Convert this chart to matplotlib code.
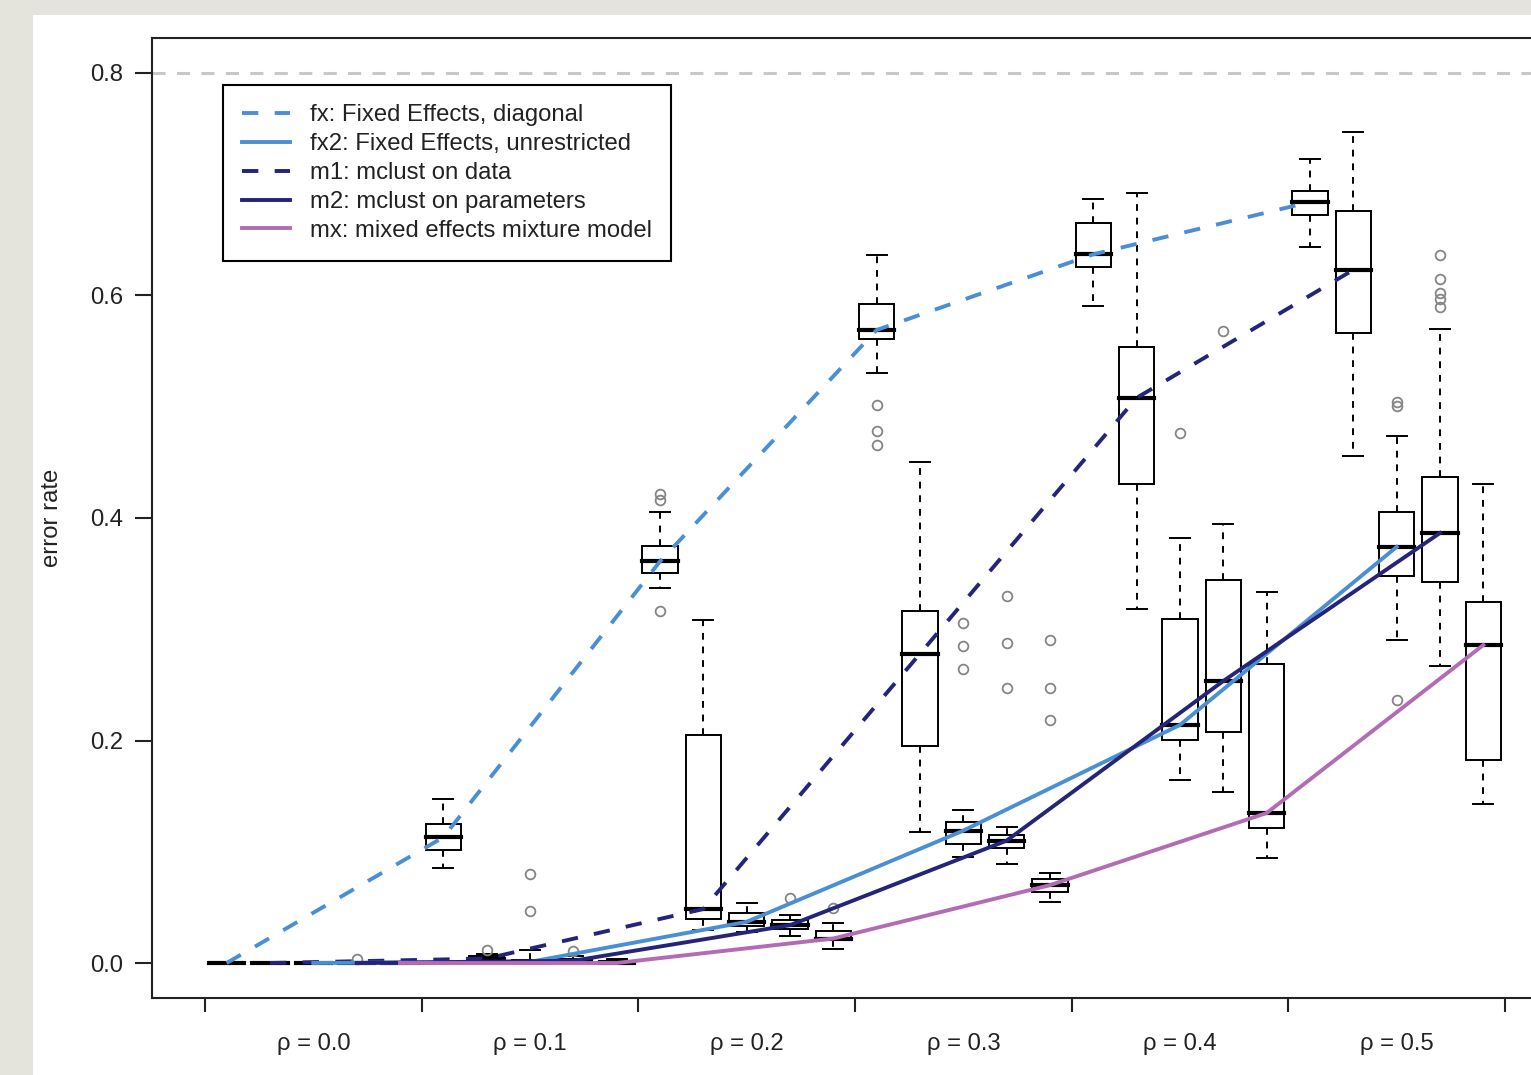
import matplotlib
matplotlib.use("Agg")
import matplotlib.pyplot as plt
from matplotlib.lines import Line2D
from matplotlib.patches import Rectangle

plt.rcParams['font.family'] = ['Liberation Sans', 'DejaVu Sans']

# groups (rho values)
rho_labels = ["ρ = 0.0", "ρ = 0.1", "ρ = 0.2", "ρ = 0.3", "ρ = 0.4", "ρ = 0.5"]

# box stats per group: [whislo, q1, med, q3, whishi]
fx_stats = [[0, 0, 0, 0, 0],
            [0.085, 0.1016, 0.113, 0.125, 0.147],
            [0.337, 0.351, 0.361, 0.375, 0.405],
            [0.530, 0.561, 0.569, 0.592, 0.636],
            [0.591, 0.626, 0.637, 0.665, 0.687],
            [0.6436, 0.672, 0.684, 0.694, 0.7227]]
fx_out = [[], [], [0.316, 0.416, 0.422], [0.466, 0.478, 0.502], [], []]

m1_stats = [[0, 0, 0, 0, 0],
            [0, 0.002, 0.004, 0.006, 0.008],
            [0.03, 0.040, 0.0485, 0.205, 0.308],
            [0.118, 0.195, 0.278, 0.316, 0.450],
            [0.318, 0.431, 0.508, 0.554, 0.692],
            [0.4557, 0.566, 0.623, 0.676, 0.747]]
m1_out = [[], [0.012], [], [], [], []]

fx2_stats = [[0, 0, 0, 0, 0],
             [0, 0, 0.001, 0.003, 0.012],
             [0.028, 0.033, 0.037, 0.045, 0.054],
             [0.095, 0.107, 0.119, 0.127, 0.1375],
             [0.1645, 0.2005, 0.214, 0.309, 0.382],
             [0.290, 0.348, 0.374, 0.405, 0.4737]]
fx2_out = [[], [0.047, 0.08], [], [0.264, 0.285, 0.306], [0.476], [0.236, 0.501, 0.504]]

m2_stats = [[0, 0, 0, 0, 0],
            [0, 0.001, 0.002, 0.004, 0.006],
            [0.024, 0.031, 0.034, 0.039, 0.043],
            [0.089, 0.103, 0.110, 0.115, 0.122],
            [0.1537, 0.2076, 0.2535, 0.344, 0.3946],
            [0.267, 0.3425, 0.3865, 0.437, 0.570]]
m2_out = [[0.004], [0.011], [0.058], [0.247, 0.288, 0.330], [0.568],
          [0.590, 0.597, 0.602, 0.615, 0.636]]

mx_stats = [[0, 0, 0, 0, 0],
            [0, 0, 0, 0.002, 0.004],
            [0.013, 0.021, 0.022, 0.029, 0.036],
            [0.055, 0.064, 0.070, 0.0755, 0.081],
            [0.0944, 0.1213, 0.1348, 0.269, 0.3335],
            [0.143, 0.1825, 0.2858, 0.3245, 0.4306]]
mx_out = [[], [], [0.049], [0.218, 0.247, 0.290], [], []]

light_blue = "#4a8fd4"
navy = "#24247a"
pink = "#b36bb5"
txt = "#222222"
fs = 17.2

# series in box order within a group, plus line style for the median lines
series = [
    ("fx: Fixed Effects, diagonal", fx_stats, fx_out, light_blue, "dashed"),
    ("m1: mclust on data", m1_stats, m1_out, navy, "dashed"),
    ("fx2: Fixed Effects, unrestricted", fx2_stats, fx2_out, light_blue, "solid"),
    ("m2: mclust on parameters", m2_stats, m2_out, navy, "solid"),
    ("mx: mixed effects mixture model", mx_stats, mx_out, pink, "solid"),
]
legend_order = [0, 2, 1, 3, 4]

W, H = 1531, 1075
fig = plt.figure(figsize=(W / 100, H / 100), dpi=100, facecolor="#e4e4dd")
fig.add_artist(Rectangle((33 / W, 0), 1, 1 - 15 / H, transform=fig.transFigure,
                         facecolor="white", edgecolor="none", zorder=-1))

ax = fig.add_axes([152 / W, 77 / H, 1408 / W, 960 / H])
ax.set_facecolor("white")

n_series = len(series)
n_groups = len(rho_labels)

stats, positions = [], []
for s, (name, st, out, col, ls) in enumerate(series):
    for g in range(n_groups):
        lo, q1, med, q3, hi = st[g]
        stats.append(dict(whislo=lo, q1=q1, med=med, q3=q3, whishi=hi, fliers=out[g]))
        positions.append(g * n_series + s + 0.5)

ax.bxp(stats, positions=positions, widths=0.81, capwidths=0.46, patch_artist=True,
       manage_ticks=False, zorder=2,
       boxprops=dict(facecolor="white", edgecolor="black", linewidth=1.4),
       whiskerprops=dict(color="black", linewidth=1.4, linestyle=(0, (3.5, 3.5))),
       capprops=dict(color="black", linewidth=1.4),
       medianprops=dict(color="black", linewidth=3, solid_capstyle="projecting"),
       flierprops=dict(marker="o", markerfacecolor="none", markeredgecolor="#858585",
                       markersize=7, markeredgewidth=1.3))

handles = []
for s, (name, st, out, col, ls) in enumerate(series):
    xs = [g * n_series + s + 0.5 for g in range(n_groups)]
    meds = [row[2] for row in st]
    dash = (0, (4.2, 4.2)) if ls == "dashed" else "-"
    ax.plot(xs, meds, color=col, lw=2.8, linestyle=dash, zorder=3)
    handles.append(Line2D([], [], color=col, lw=2.8, linestyle=dash))

ax.axhline(0.8, color="#c8c8c8", lw=2.2, linestyle=(0, (4.3, 3.7)), zorder=1)

ax.set_xlim(-1.223, 31.27)
ax.set_ylim(-0.03146, 0.83146)

ax.set_yticks([0, 0.2, 0.4, 0.6, 0.8])
ax.set_yticklabels(["0.0", "0.2", "0.4", "0.6", "0.8"])
ax.tick_params(axis="y", direction="out", length=12, width=1.5, pad=9,
               labelsize=fs, labelcolor=txt, color="#222")

ax.set_xticks([g * n_series for g in range(n_groups + 1)])
ax.set_xticklabels([])
ax.set_xticks([g * n_series + n_series / 2 for g in range(n_groups)], minor=True)
ax.set_xticklabels(rho_labels, minor=True)
ax.tick_params(axis="x", which="major", direction="out", length=10, width=1.5, color="#222")
ax.tick_params(axis="x", which="minor", length=0, pad=25, labelsize=fs, labelcolor=txt)

for sp in ax.spines.values():
    sp.set_linewidth(1.5)
    sp.set_color("#222")

fig.text(52 / W, 1 - 518 / H, "error rate", rotation=90, ha="center", va="center",
         fontsize=fs, color=txt)

leg = ax.legend([handles[i] for i in legend_order], [series[i][0] for i in legend_order],
                loc="upper left", bbox_to_anchor=(223 / W, 1 - 85 / H),
                bbox_transform=fig.transFigure, borderaxespad=0, fontsize=fs,
                handlelength=2.0, handletextpad=0.83, labelspacing=0.29,
                borderpad=0.8, fancybox=False, framealpha=1, edgecolor="black")
leg.get_frame().set_linewidth(1.5)
for t in leg.get_texts():
    t.set_color(txt)

fig.savefig("out.png", dpi=100, facecolor=fig.get_facecolor())
